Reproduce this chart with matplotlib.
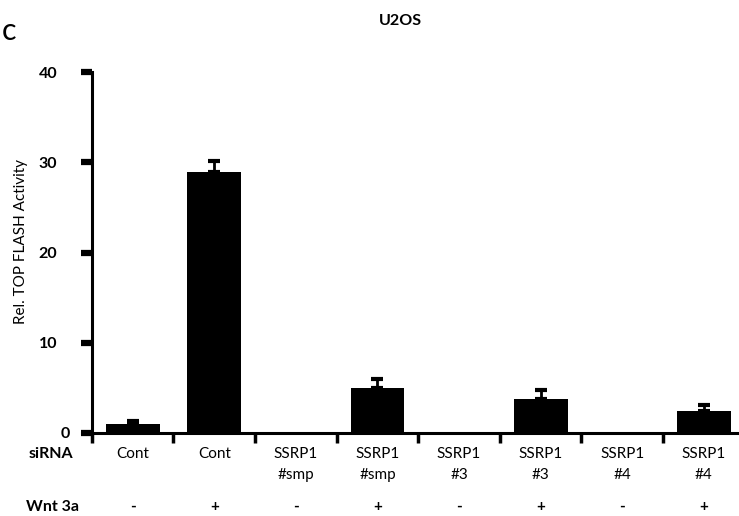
import matplotlib.pyplot as plt
from matplotlib import transforms
import numpy as np

plt.rcParams['font.family'] = ['Lato', 'DejaVu Sans']

sirna = ["Cont", "Cont", "SSRP1\n#smp", "SSRP1\n#smp", "SSRP1\n#3", "SSRP1\n#3", "SSRP1\n#4", "SSRP1\n#4"]
wnt3a = ["-", "+", "-", "+", "-", "+", "-", "+"]
activity = [1.0, 28.9, 0.0, 5.0, 0.0, 3.7, 0.0, 2.4]
err = [0.25, 1.2, 0.0, 1.0, 0.0, 1.0, 0.0, 0.7]

fig = plt.figure(figsize=(7.39, 5.16), dpi=100)
ax = fig.add_axes([0.111, 0.1614, 0.889, 0.6985])

x = np.arange(len(activity))
ax.bar(x, activity, width=0.66, color='black', zorder=2)

# error bars only where there is a bar
has = np.array(err) > 0
ax.errorbar(x[has], np.array(activity)[has], yerr=[np.zeros(has.sum()), np.array(err)[has]],
            fmt='none', ecolor='black', elinewidth=2.0, capsize=4.3, capthick=3, zorder=1)

ax.set_xlim(-0.62, 7.43)
ax.set_ylim(0, 40)
ax.spines['top'].set_visible(False)
ax.spines['right'].set_visible(False)
ax.spines['left'].set_position(('data', -0.5))
ax.spines['left'].set_linewidth(2.2)
ax.spines['bottom'].set_linewidth(2.2)
ax.spines['left'].set_zorder(3)
ax.spines['bottom'].set_zorder(3)

ax.set_yticks([0, 10, 20, 30, 40])
ax.tick_params(axis='y', direction='out', length=8, width=4.5, labelsize=11.5, pad=17)
for lab in ax.get_yticklabels():
    lab.set_fontweight('bold')
# the "0" sits closer to the axis in the original
ylabs = ax.get_yticklabels()
ylabs[0].set_transform(ylabs[0].get_transform() +
                       transforms.ScaledTranslation(0.13, 0, fig.dpi_scale_trans))

ax.set_xticks(np.arange(-0.5, 7.5, 1.0))
ax.set_xticklabels([])
ax.tick_params(axis='x', which='major', direction='out', length=7.5, width=2.5)
ax.set_xticks(x, minor=True)
ax.set_xticklabels(sirna, minor=True, fontsize=11, linespacing=1.65, va='top')
ax.tick_params(axis='x', which='minor', length=0, pad=10)

ax.set_ylabel("Rel. TOP FLASH Activity", fontsize=11)
ax.yaxis.set_label_coords(-0.082, 0.53)

trans = transforms.blended_transform_factory(ax.transData, fig.transFigure)
for xi, s in zip(x, wnt3a):
    ax.text(xi, 1 - 507 / 516, s, transform=trans, ha='center', va='center',
            fontsize=11, fontweight='bold')

fig.text(51 / 739, 1 - 454 / 516, "siRNA", ha='center', va='center', fontsize=11.5, fontweight='bold')
fig.text(53 / 739, 1 - 507 / 516, "Wnt 3a", ha='center', va='center', fontsize=11.5, fontweight='bold')
fig.text(400 / 739, 1 - 21 / 516, "U2OS", ha='center', va='center', fontsize=11.5, fontweight='bold')
fig.text(0.002, 1 - 31 / 516, "c", ha='left', va='center', fontsize=22)

fig.savefig("out.png", dpi=100)
